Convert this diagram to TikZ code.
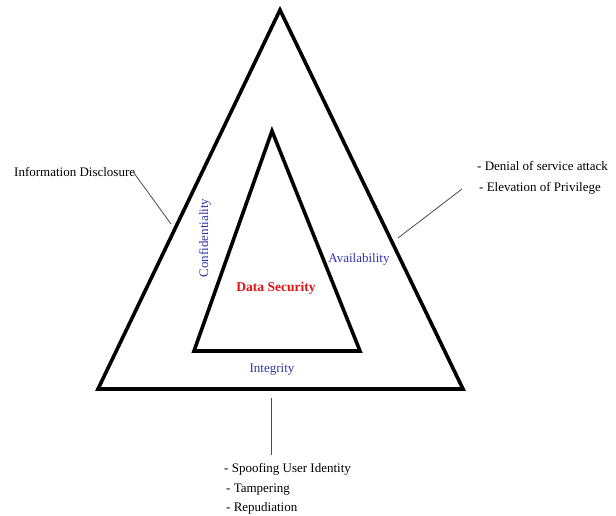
\documentclass[tikz,border=0pt]{standalone}
\usepackage{fontspec}
\setmainfont{Liberation Serif}
\begin{document}
\begin{tikzpicture}[x=1pt,y=-1pt,
  tri/.style={line width=3.6pt,line join=miter},
  lead/.style={line width=0.8pt,draw=black!70},
  lbl/.style={font=\fontsize{13}{15}\selectfont,inner sep=0pt},
  blu/.style={lbl,text={rgb,255:red,50;green,50;blue,170}},
  itm/.style={lbl,anchor=west}]
\useasboundingbox (0,0) rectangle (616,515);
\coordinate (oa) at (280,10);
\coordinate (ol) at (98,389);
\coordinate (or) at (463,389);
\coordinate (ia) at (272,131);
\coordinate (il) at (194,351);
\coordinate (ir) at (360,351);
\draw[tri] (oa) -- (ol) -- (or) -- cycle;
\draw[tri] (ia) -- (il) -- (ir) -- cycle;
\node[blu,rotate=90] (conf) at (205,238) {Confidentiality};
\node[blu] (avail) at (359,259) {Availability};
\node[lbl,font=\fontsize{13.5}{15}\selectfont\bfseries,text={rgb,255:red,220;green,20;blue,20}] (ds) at (276,288) {Data Security};
\node[blu] (integ) at (272,370) {Integrity};
\node[lbl,anchor=west] (info) at (14,172) {Information Disclosure};
\node[itm] (dos) at (477,166) {- Denial of service attack};
\node[itm] (eop) at (479,188) {- Elevation of Privilege};
\node[itm] (spoof) at (224,469) {- Spoofing User Identity};
\node[itm] (tamp) at (226,490) {- Tampering};
\node[itm] (rep) at (226,508) {- Repudiation};
\coordinate (s1) at (134,173);
\coordinate (e1) at (171,224);
\coordinate (e2) at (398,238);
\coordinate (e3s) at (271,398);
\coordinate (e3e) at (271,455);
\coordinate (s2) at (462,189);
\draw[lead] (s1) -- (e1);
\draw[lead] (s2) -- (e2);
\draw[lead] (e3s) -- (e3e);
\end{tikzpicture}
\end{document}
